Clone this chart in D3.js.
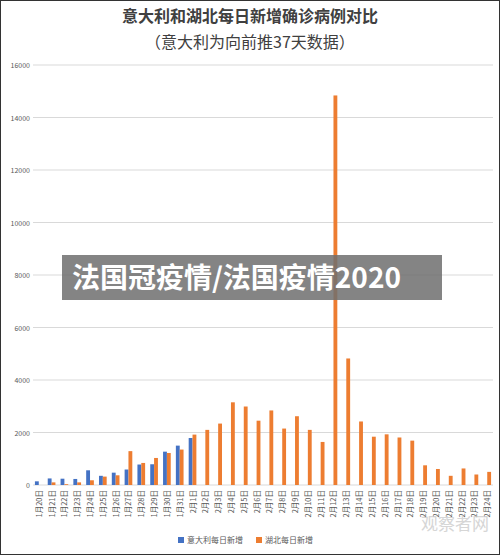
<!DOCTYPE html>
<html><head><meta charset="utf-8">
<script src="https://cdn.jsdelivr.net/npm/d3@7"></script>
<style>body{margin:0;background:#fff}text{font-family:"Noto Sans CJK SC","Noto Sans",sans-serif}</style>
</head><body><svg id="c" width="500" height="555"></svg>
<script>
const days = [];
for (let d = 20; d <= 31; d++) days.push(`1月${d}日`);
for (let d = 1; d <= 24; d++) days.push(`2月${d}日`);
const italy = [140,250,240,230,560,350,470,590,780,790,1270,1500,1790];
const hubei = [0,100,30,100,180,320,370,1290,840,1030,1220,1350,1920,2100,2340,3150,2990,2450,2840,2150,2620,2100,1640,14840,4820,2420,1840,1930,1810,1690,750,610,350,630,400,500];
const yTicks = d3.range(0, 16001, 2000);

const svg = d3.select('#c');
svg.append('rect').attr('x',0.5).attr('y',0.5).attr('width',499).attr('height',554)
  .attr('fill','#fff').attr('stroke','#333');

svg.append('text').attr('x',250).attr('y',22).attr('text-anchor','middle')
  .attr('font-size',16).attr('font-weight','bold').attr('fill','#404040').text('意大利和湖北每日新增确诊病例对比');
svg.append('text').attr('x',250).attr('y',48).attr('text-anchor','middle')
  .attr('font-size',16).attr('fill','#404040').text('（意大利为向前推37天数据）');

const x = d3.scaleBand().domain(days).range([33, 493]).paddingInner(0.4).paddingOuter(0.15);
const y = d3.scaleLinear().domain([0, 16000]).range([485, 65]);

svg.append('g').selectAll('line').data(yTicks).join('line')
  .attr('x1',33).attr('x2',493).attr('y1',d=>y(d)).attr('y2',d=>y(d))
  .attr('stroke','#d9d9d9');
svg.append('g').selectAll('text').data(yTicks).join('text')
  .attr('x',30).attr('y',d=>y(d)+3).attr('text-anchor','end')
  .attr('font-size',7).attr('fill','#595959').text(d=>d);

const bw = x.bandwidth()/2;
svg.append('g').selectAll('rect').data(italy).join('rect')
  .attr('x',(d,i)=>x(days[i])).attr('width',bw)
  .attr('y',d=>y(d)).attr('height',d=>y(0)-y(d)).attr('fill','#4472c4');
svg.append('g').selectAll('rect').data(hubei).join('rect')
  .attr('x',(d,i)=>x(days[i])+bw).attr('width',bw)
  .attr('y',d=>y(d)).attr('height',d=>y(0)-y(d)).attr('fill','#ed7d31');

svg.append('g').selectAll('text').data(days).join('text')
  .attr('transform',d=>`translate(${x(d)+x.bandwidth()/2+3},490) rotate(-90)`)
  .attr('text-anchor','end').attr('font-size',7.5).attr('fill','#595959').text(d=>d);

const legend = [['意大利每日新增','#4472c4',178],['湖北每日新增','#ed7d31',256]];
legend.forEach(([t,c,lx])=>{
  svg.append('rect').attr('x',lx).attr('y',537).attr('width',6).attr('height',6).attr('fill',c);
  svg.append('text').attr('x',lx+9).attr('y',543).attr('font-size',8).attr('fill','#595959').text(t);
});

svg.append('text').attr('x',455).attr('y',530).attr('text-anchor','middle')
  .attr('font-size',17).attr('fill','#ccc').attr('opacity',0.8).text('观察者网');

svg.append('rect').attr('x',62).attr('y',255).attr('width',380).attr('height',45)
  .attr('fill','#6e6e6e').attr('opacity',0.85);
svg.append('text').attr('x',72).attr('y',288).attr('font-size',28).attr('font-weight','bold')
  .attr('fill','#fff').text('法国冠疫情/法国疫情2020');
</script></body></html>
